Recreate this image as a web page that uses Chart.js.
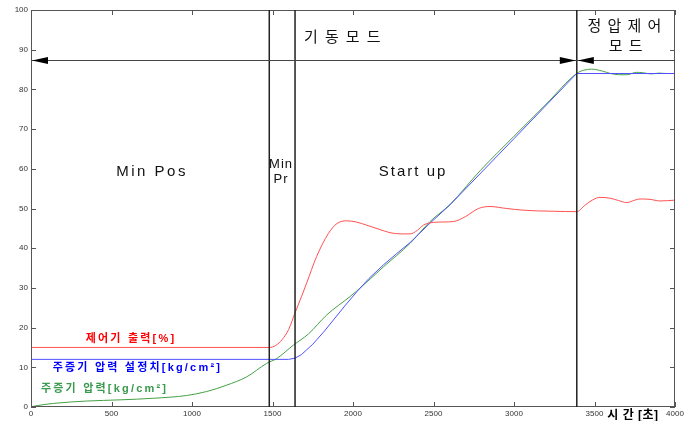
<!DOCTYPE html>
<html>
<head>
<meta charset="utf-8">
<script src="https://cdn.jsdelivr.net/npm/chart.js@4/dist/chart.umd.min.js"></script>
<style>
html,body{margin:0;padding:0;background:#fff;}
#wrap{width:695px;height:421px;}
</style>
</head>
<body>
<div id="wrap"><canvas id="c" width="695" height="421"></canvas></div>
<script>
// ---- data ----
const redT = [0,1480,1520,1560,1600,1640,1680,1712,1774,1847,1900,1961,2020,2085,2160,2230,2300,2354,2400,2437,2480,2560,2623,2700,2779,2851,2955,3050,3141,3250,3389,3440,3490,3534,3596,3650,3700,3750,3783,3845,3907,4000];
const redV = [15,15,15.5,17,19.5,23.7,27.8,31.2,37.9,43.7,46.2,46.9,46.6,45.8,44.8,43.9,43.6,43.6,44.5,45.8,46.4,46.6,46.7,48,50.0,50.5,50.0,49.6,49.4,49.3,49.2,50.8,52.2,52.8,52.6,52.0,51.5,52.1,52.4,52.3,51.9,52.1];

const blueT = [0,1600,1640,1680,1712,1750,1774,1820,1878,1950,2023,2100,2189,2270,2354,2478,2602,3000,3389,4000];
const blueV = [12,12,12.3,13.2,14.4,15.8,16.9,19.0,21.9,25.5,29.0,32.4,35.8,38.6,41.4,46.3,50.9,67.6,84,84];

const greenT = [0,25,139,346,553,760,967,1091,1215,1340,1464,1526,1630,1723,1837,1981,2023,2189,2354,2478,2602,2789,3000,3200,3389,3430,3482,3550,3600,3650,3700,3762,3800,3850,3900,3950,4000];
const greenV = [0,0.25,0.9,1.5,1.8,2.2,2.9,3.9,5.5,7.6,11.0,12.2,15.6,18.4,23.2,27.8,29.2,35.3,41.2,46.7,51.0,59.5,68.2,76.3,84.0,84.8,85.1,84.6,84.0,83.7,83.7,84.3,84.2,83.9,84.1,84.0,84.0];

const xTicks = [0,500,1000,1500,2000,2500,3000,3500,4000];
const yTicks = [0,10,20,30,40,50,60,70,80,90,100];
const phaseMarks = [1480,1640,3390];
const arrowLevel = 87.5;

const seriesNames = ['제어기 출력[%]','주증기 압력 설정치[kg/cm²]','주증기 압력[kg/cm²]'];
const phaseLabels = ['기 동 모 드','정 압 제 어','모 드','Min Pos','Min','Pr','Start up'];
const xAxisTitle = '시 간 [초]';

const toPts = (t, v) => t.map((x, i) => ({x: x, y: v[i]}));

const FONT = '"Liberation Sans", Arial, "Noto Sans CJK KR", sans-serif';

const overlay = {
  id: 'overlay',
  afterDraw(chart) {
    const {ctx, chartArea: a, scales: {x, y}} = chart;
    ctx.save();
    // box
    ctx.strokeStyle = '#555';
    ctx.lineWidth = 1;
    ctx.strokeRect(a.left + 0.5, a.top + 0.5, a.right - a.left - 1, a.bottom - a.top - 1);
    // inward ticks
    ctx.beginPath();
    xTicks.forEach(v => {
      const px = Math.round(x.getPixelForValue(v)) + 0.5;
      ctx.moveTo(px, a.bottom); ctx.lineTo(px, a.bottom - 5);
      ctx.moveTo(px, a.top); ctx.lineTo(px, a.top + 5);
    });
    yTicks.forEach(v => {
      const py = Math.round(y.getPixelForValue(v)) + 0.5;
      ctx.moveTo(a.left, py); ctx.lineTo(a.left + 5, py);
      ctx.moveTo(a.right, py); ctx.lineTo(a.right - 5, py);
    });
    ctx.stroke();
    // phase vertical lines
    ctx.strokeStyle = '#222';
    ctx.lineWidth = 1.5;
    ctx.beginPath();
    phaseMarks.forEach(v => {
      const px = x.getPixelForValue(v);
      ctx.moveTo(px, a.top); ctx.lineTo(px, a.bottom);
    });
    ctx.stroke();
    // arrow line
    const ay = Math.round(y.getPixelForValue(arrowLevel)) + 0.5;
    ctx.strokeStyle = '#444';
    ctx.lineWidth = 1;
    ctx.beginPath();
    ctx.moveTo(a.left, ay); ctx.lineTo(a.right, ay);
    ctx.stroke();
    ctx.fillStyle = '#000';
    const tri = (tipX, dir) => {
      ctx.beginPath();
      ctx.moveTo(tipX, ay);
      ctx.lineTo(tipX + dir * 16, ay - 3.5);
      ctx.lineTo(tipX + dir * 16, ay + 3.5);
      ctx.closePath();
      ctx.fill();
    };
    const mEnd = x.getPixelForValue(phaseMarks[2]);
    tri(a.left + 1, 1);
    tri(mEnd - 1, -1);
    tri(mEnd + 1, 1);

    // texts
    const txt = (s, tx, ty, font, color, spacing) => {
      ctx.font = font;
      ctx.fillStyle = color;
      ctx.letterSpacing = spacing + 'px';
      ctx.textAlign = 'center';
      ctx.textBaseline = 'middle';
      ctx.fillText(s, x.getPixelForValue(tx), y.getPixelForValue(ty));
    };
    txt(phaseLabels[0], 1938, 92.9, '15px ' + FONT, '#111', 1.5);
    txt(phaseLabels[1], 3689, 95.7, '15px ' + FONT, '#111', 1);
    txt(phaseLabels[2], 3696, 90.7, '15px ' + FONT, '#111', 1);
    txt(phaseLabels[3], 752, 59.2, '15px ' + FONT, '#111', 2.5);
    txt(phaseLabels[4], 1553, 61.2, '13px ' + FONT, '#111', 1);
    txt(phaseLabels[5], 1553, 57.4, '13px ' + FONT, '#111', 1);
    txt(phaseLabels[6], 2373, 59.2, '15px ' + FONT, '#111', 2);
    txt(seriesNames[0], 621, 17.1, 'bold 11px ' + FONT, '#ff0000', 2.2);
    txt(seriesNames[1], 661, 9.8, 'bold 11px ' + FONT, '#0000ff', 2.2);
    txt(seriesNames[2], 457, 4.5, 'bold 11px ' + FONT, '#3a9a4e', 2.2);
    txt(xAxisTitle, 3739, -2.3, 'bold 12px ' + FONT, '#000', 0.5);
    ctx.restore();
  }
};

new Chart(document.getElementById('c'), {
  type: 'scatter',
  data: {
    datasets: [
      {label: seriesNames[0], data: toPts(redT, redV), borderColor: '#ff5050', showLine: true, borderWidth: 1, pointRadius: 0, cubicInterpolationMode: 'monotone'},
      {label: seriesNames[1], data: toPts(blueT, blueV), borderColor: '#5050ff', showLine: true, borderWidth: 1, pointRadius: 0, tension: 0},
      {label: seriesNames[2], data: toPts(greenT, greenV), borderColor: '#44a044', showLine: true, borderWidth: 1, pointRadius: 0, cubicInterpolationMode: 'monotone'}
    ]
  },
  options: {
    responsive: false,
    animation: false,
    devicePixelRatio: 1,
    layout: {padding: {left: 0, right: 20, top: 10, bottom: 0}},
    plugins: {legend: {display: false}, tooltip: {enabled: false}},
    scales: {
      x: {
        type: 'linear', min: 0, max: 4000,
        afterBuildTicks: s => { s.ticks = xTicks.map(v => ({value: v})); },
        afterFit: s => { s.height = 14; },
        grid: {display: false, drawTicks: false},
        border: {display: false},
        ticks: {padding: 2, maxRotation: 0, autoSkip: false, color: '#333', font: {size: 8, family: FONT}, callback: v => String(v)}
      },
      y: {
        type: 'linear', min: 0, max: 100,
        afterBuildTicks: s => { s.ticks = yTicks.map(v => ({value: v})); },
        afterFit: s => { s.width = 31; },
        grid: {display: false, drawTicks: false},
        border: {display: false},
        ticks: {padding: 3, color: '#333', font: {size: 8, family: FONT}, callback: v => String(v)}
      }
    }
  },
  plugins: [overlay]
});
</script>
</body>
</html>
